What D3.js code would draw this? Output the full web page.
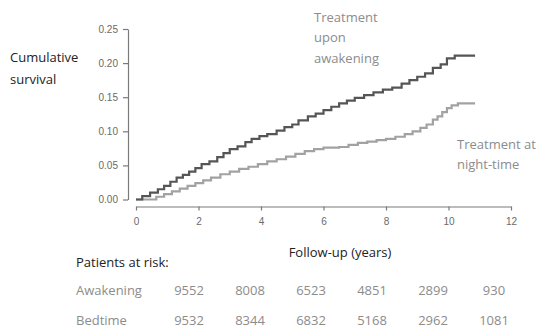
<!DOCTYPE html>
<html>
<head>
<meta charset="utf-8">
<script src="https://cdn.jsdelivr.net/npm/d3@7"></script>
<style>
  body { margin: 0; background: #fff; }
  svg { display: block; }
  .tick text { font-family: "Liberation Sans", Arial, sans-serif; font-size: 10px; fill: #6a6a6a; }
  .lbl { font-family: "Open Sans", sans-serif; font-size: 13px; }
</style>
</head>
<body>
<div id="chart"></div>
<script>
// step times (years) and cumulative values
const awakeTime  = [0, 0.2, 0.45, 0.7, 0.9, 1.1, 1.3, 1.5, 1.7, 1.9, 2.1, 2.35, 2.6, 2.8, 3.0, 3.25, 3.5, 3.7, 3.95, 4.2, 4.5, 4.75, 5.0, 5.2, 5.5, 5.75, 6.0, 6.25, 6.5, 6.75, 7.0, 7.3, 7.6, 7.9, 8.2, 8.5, 8.75, 9.0, 9.25, 9.5, 9.75, 9.95, 10.2, 10.85];
const awakeValue = [0, 0.005, 0.010, 0.015, 0.020, 0.026, 0.032, 0.036, 0.041, 0.046, 0.052, 0.056, 0.062, 0.068, 0.074, 0.078, 0.084, 0.089, 0.093, 0.096, 0.101, 0.106, 0.110, 0.116, 0.122, 0.126, 0.131, 0.136, 0.141, 0.145, 0.149, 0.153, 0.157, 0.161, 0.164, 0.170, 0.175, 0.180, 0.185, 0.193, 0.198, 0.207, 0.211, 0.211];

const nightTime  = [0, 0.65, 0.9, 1.15, 1.4, 1.65, 1.9, 2.15, 2.4, 2.7, 3.0, 3.3, 3.6, 3.9, 4.2, 4.5, 4.8, 5.1, 5.4, 5.7, 6.0, 6.5, 6.8, 7.1, 7.4, 7.7, 8.0, 8.3, 8.6, 8.85, 9.1, 9.3, 9.5, 9.65, 9.8, 9.95, 10.1, 10.3, 10.85];
const nightValue = [0, 0.004, 0.008, 0.012, 0.016, 0.020, 0.024, 0.028, 0.032, 0.037, 0.041, 0.045, 0.048, 0.052, 0.056, 0.059, 0.063, 0.067, 0.071, 0.074, 0.076, 0.077, 0.080, 0.083, 0.085, 0.087, 0.089, 0.092, 0.096, 0.100, 0.105, 0.110, 0.117, 0.122, 0.128, 0.134, 0.138, 0.141, 0.141];

const xTicks = [0, 2, 4, 6, 8, 10, 12];
const yTicks = [0, 0.05, 0.10, 0.15, 0.20, 0.25];

const riskGroups = ["Awakening", "Bedtime"];
const riskAwakening = [9552, 8008, 6523, 4851, 2899, 930];
const riskBedtime   = [9532, 8344, 6832, 5168, 2962, 1081];

const width = 539, height = 333;

const svg = d3.select('#chart').append('svg')
  .attr('width', width)
  .attr('height', height);

const x = d3.scaleLinear().domain([0, 12]).range([136, 511]);
const y = d3.scaleLinear().domain([0, 0.25]).range([199.5, 29]);

// y axis
const yAxis = svg.append('g')
  .attr('transform', 'translate(128,0)')
  .call(d3.axisLeft(y).tickValues(yTicks).tickFormat(d3.format('.2f')).tickSize(5).tickSizeOuter(0).tickPadding(5));

// x axis
const xAxis = svg.append('g')
  .attr('transform', 'translate(0,206.5)')
  .call(d3.axisBottom(x).tickValues(xTicks).tickSize(4).tickSizeOuter(0).tickPadding(7));

[yAxis, xAxis].forEach(a => {
  a.select('.domain').attr('stroke', '#7a7a7a').attr('stroke-width', 1.2);
  a.selectAll('.tick line').attr('stroke', '#7a7a7a').attr('stroke-width', 1.2);
});

const line = d3.line()
  .x(d => x(d.t))
  .y(d => y(d.v))
  .curve(d3.curveStepAfter);

const awakening = awakeTime.map((t, i) => ({ t: t, v: awakeValue[i] }));
const night = nightTime.map((t, i) => ({ t: t, v: nightValue[i] }));

svg.append('path')
  .datum(night)
  .attr('fill', 'none')
  .attr('stroke', '#a2a2a2')
  .attr('stroke-width', 2.2)
  .attr('d', line);

svg.append('path')
  .datum(awakening)
  .attr('fill', 'none')
  .attr('stroke', '#555')
  .attr('stroke-width', 2.2)
  .attr('d', line);

// labels
const addText = (txt, xp, yp, color, anchor) => svg.append('text')
  .attr('class', 'lbl')
  .attr('x', xp).attr('y', yp)
  .attr('dy', '0.35em')
  .attr('fill', color)
  .attr('text-anchor', anchor || 'start')
  .text(txt);

addText('Cumulative', 10, 57, '#222');
addText('survival', 10, 79, '#222');

addText('Treatment', 314, 17, '#8c8c8c');
addText('upon', 314, 37.5, '#8c8c8c');
addText('awakening', 314, 58, '#8c8c8c');

addText('Treatment at', 457, 144, '#8c8c8c');
addText('night-time', 457, 164, '#8c8c8c');

addText('Follow-up (years)', 340, 252, '#222', 'middle');
addText('Patients at risk:', 76, 262, '#222');

// patients at risk table
const col = d3.scalePoint().domain(d3.range(riskAwakening.length)).range([189, 494]);
const row = d3.scalePoint().domain(riskGroups).range([290, 320]);
const riskRows = [riskAwakening, riskBedtime];

riskGroups.forEach((g, gi) => {
  addText(g, 76, row(g), '#8c8c8c');
  svg.append('g').selectAll('text')
    .data(riskRows[gi])
    .join('text')
    .attr('class', 'lbl')
    .attr('x', (d, i) => col(i))
    .attr('y', row(g))
    .attr('dy', '0.35em')
    .attr('text-anchor', 'middle')
    .attr('fill', '#8c8c8c')
    .text(d => d);
});
</script>
</body>
</html>
